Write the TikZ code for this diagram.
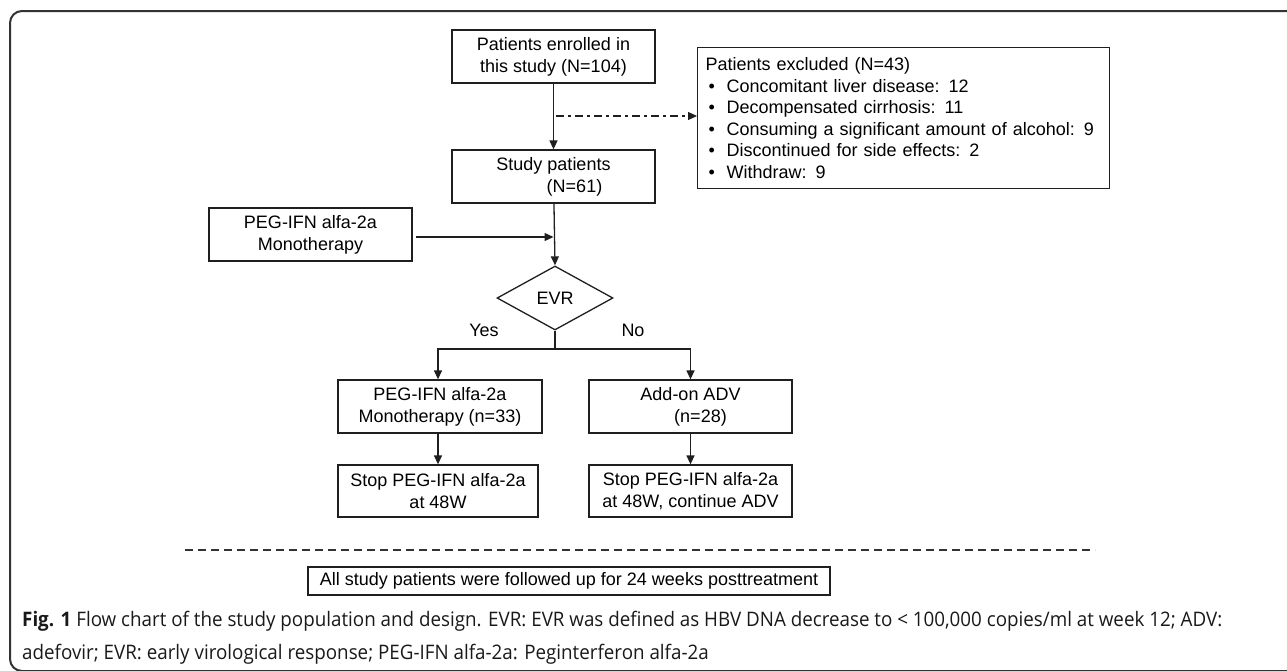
\documentclass[tikz,border=0pt]{standalone}
\usepackage{fontspec}
\setmainfont{Liberation Sans}
\newfontfamily\capfont{Open Sans}
\usetikzlibrary{arrows.meta,shapes.geometric}
\newlength\capw
\begin{document}
\settowidth{\capw}{\capfont\fontsize{20}{24}\selectfont\textbf{Fig. 1} Flow chart of the study population and design. EVR: EVR was defined as HBV DNA decrease to < 100,000 copies/ml at week 12; ADV:}%
\pgfmathsetmacro{\capf}{1200/\capw}%
\begin{tikzpicture}[x=1pt,y=-1pt,
  txt/.style={font=\fontsize{18}{22}\selectfont},
  box/.style={txt, draw=black!88, line width=1.3pt, inner sep=0pt, align=center},
  arr/.style={-{Triangle[length=9pt,width=8pt]}, line width=1.3pt, draw=black!88},
  ln/.style={line width=1.3pt, draw=black!88},
  capt/.style={anchor=west, inner sep=0pt, font=\capfont\fontsize{20}{24}\selectfont, text=black!90}]
\useasboundingbox (0,0) rectangle (1287,670);
\begin{scope}
\clip (0,0) rectangle (1287,670);
\draw[line width=2pt, black!80, rounded corners=12pt] (1300,11) -- (10,11) -- (10,671) -- (1300,671);
\end{scope}

% nodes
\node[box, minimum width=203pt, minimum height=53pt] (b1) at (553.5,56.5) {Patients enrolled in\\this study (N=104)};
\node[box, minimum width=203pt, minimum height=53pt] (b2) at (553.5,176.5) {Study patients\\\hspace*{42pt}(N=61)};
\node[box, anchor=north west, minimum height=141pt, text width=396pt, inner xsep=8pt, align=left, font=\fontsize{18}{21.6}\selectfont] (ex) at (697,47)
 {Patients excluded (N=43)\\
  \makebox[21pt][l]{\hspace{3pt}•}Concomitant liver disease: 12\\
  \makebox[21pt][l]{\hspace{3pt}•}Decompensated cirrhosis: 11\\
  \makebox[21pt][l]{\hspace{3pt}•}Consuming a significant amount of alcohol: 9\\
  \makebox[21pt][l]{\hspace{3pt}•}Discontinued for side effects: 2\\
  \makebox[21pt][l]{\hspace{3pt}•}Withdraw: 9};
\node[box, minimum width=203pt, minimum height=53pt] (peg) at (310.5,234.5) {PEG-IFN alfa-2a\\Monotherapy};
\node[txt, diamond, draw=black!88, line width=1.3pt, aspect=1.8, minimum width=116pt, minimum height=64pt, inner sep=0pt] (evr) at (555,298) {EVR};
\node[txt, inner sep=0pt] (yes) at (484,330) {Yes};
\node[txt, inner sep=0pt] (no) at (633,330) {No};
\node[box, minimum width=204pt, minimum height=53pt] (b5) at (440,406.5) {PEG-IFN alfa-2a\\Monotherapy (n=33)};
\node[box, minimum width=203pt, minimum height=53pt] (b6) at (690.5,406.5) {Add-on ADV\\\hspace*{20pt}(n=28)};
\node[box, minimum width=200pt, minimum height=52pt] (b7) at (438,491) {Stop PEG-IFN alfa-2a\\at 48W};
\node[box, minimum width=203pt, minimum height=52pt] (b8) at (690.5,491) {Stop PEG-IFN alfa-2a\\at 48W, continue ADV};
\node[box, minimum width=522pt, minimum height=28pt] (fu) at (569,581) {All study patients were followed up for 24 weeks posttreatment};

% connectors
\coordinate (dd) at (556,116);
\coordinate (join) at (553.5,237);
\coordinate (split) at (555,349);
\coordinate (dl) at (185,550);
\coordinate (dr) at (1095,550);
\draw[arr] (b1) -- (b2);
\draw[arr, dash pattern=on 8pt off 4pt on 3pt off 4pt] (dd) -- (ex.west |- dd);
\draw[arr] (b2) -- (evr.north);
\draw[arr] ([xshift=3pt]peg.east |- join) -- (join);
\draw[ln] (evr.south) -- (split);
\draw[arr] (split) -| ([xshift=-2pt]b5.north);
\draw[arr] (split) -| (b6.north);
\draw[arr] ([xshift=-2pt]b5.south) -- ([xshift=-2pt]b5.south |- b7.north);
\draw[arr] (b6.south) -- (b8.north);
\draw[line width=1.2pt, black!80, dash pattern=on 8pt off 5pt] (dl) -- (dr);

% caption
\node[capt] (cap1) at (22,621) {\scalebox{\capf}[1]{\textbf{Fig. 1} Flow chart of the study population and design. EVR: EVR was defined as HBV DNA decrease to < 100,000 copies/ml at week 12; ADV:}};
\node[capt] (cap2) at (22,654) {\scalebox{\capf}[1]{adefovir; EVR: early virological response; PEG-IFN alfa-2a: Peginterferon alfa-2a}};
\end{tikzpicture}
\end{document}
